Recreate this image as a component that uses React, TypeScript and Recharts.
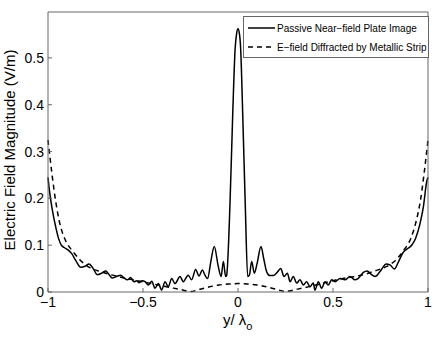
import {
  Legend,
  Line,
  LineChart,
  XAxis,
  YAxis,
} from 'recharts'

const FONT = '"Liberation Sans", Arial, Helvetica, sans-serif'
const AXIS = '#666'

// y / lambda_o positions and field magnitudes (V/m)
const PLATE_X = [
  -1, -0.995, -0.977, -0.96, -0.945, -0.93, -0.915, -0.895, -0.875, -0.855,
  -0.828, -0.805, -0.784, -0.762, -0.741, -0.718, -0.696, -0.68, -0.662, -0.64,
  -0.617, -0.6, -0.582, -0.565, -0.547, -0.533, -0.52, -0.505, -0.489, -0.472,
  -0.454, -0.437, -0.419, -0.402, -0.384, -0.367, -0.349, -0.332, -0.305, -0.288,
  -0.262, -0.244, -0.223, -0.205, -0.188, -0.174, -0.16, -0.143, -0.125, -0.104,
  -0.089, -0.077, -0.065, -0.06, -0.042, -0.028, -0.015, -0.007, 0, 0.007,
  0.014, 0.025, 0.038, 0.051, 0.06, 0.072, 0.086, 0.1, 0.121, 0.136,
  0.151, 0.168, 0.186, 0.204, 0.225, 0.242, 0.26, 0.274, 0.291, 0.309,
  0.326, 0.344, 0.361, 0.379, 0.396, 0.405, 0.423, 0.44, 0.458, 0.475,
  0.493, 0.511, 0.537, 0.563, 0.589, 0.616, 0.63, 0.66, 0.68, 0.7,
  0.721, 0.75, 0.78, 0.8, 0.823, 0.845, 0.87, 0.89, 0.914, 0.935,
  0.958, 0.975, 0.993, 1,
]
const PLATE_Y = [
  0.245, 0.225, 0.175, 0.14, 0.115, 0.1, 0.095, 0.09, 0.082, 0.068,
  0.053, 0.055, 0.06, 0.05, 0.037, 0.04, 0.045, 0.038, 0.03, 0.033,
  0.036, 0.03, 0.026, 0.031, 0.022, 0.024, 0.02, 0.024, 0.022, 0.015,
  0.023, 0.008, 0.018, 0.004, 0.022, 0.011, 0.029, 0.018, 0.033, 0.022,
  0.036, 0.026, 0.048, 0.034, 0.047, 0.036, 0.029, 0.065, 0.097, 0.055,
  0.033, 0.065, 0.033, 0.035, 0.19, 0.377, 0.52, 0.553, 0.562, 0.553,
  0.52, 0.377, 0.19, 0.033, 0.036, 0.065, 0.04, 0.06, 0.097, 0.07,
  0.043, 0.035, 0.035, 0.041, 0.05, 0.033, 0.04, 0.022, 0.033, 0.019,
  0.026, 0.015, 0.022, 0.011, 0.019, 0.004, 0.022, 0.008, 0.022, 0.015,
  0.026, 0.022, 0.029, 0.026, 0.033, 0.026, 0.028, 0.042, 0.045, 0.038,
  0.033, 0.045, 0.06, 0.058, 0.049, 0.065, 0.085, 0.092, 0.1, 0.115,
  0.146, 0.18, 0.235, 0.245,
]

const STRIP_X = [
  -1, -0.98, -0.96, -0.94, -0.91, -0.87, -0.83, -0.78, -0.72, -0.66,
  -0.6, -0.54, -0.48, -0.42, -0.36, -0.3, -0.25, -0.2, -0.15, -0.1,
  -0.05, 0, 0.05, 0.1, 0.15, 0.2, 0.25, 0.3, 0.36, 0.42,
  0.48, 0.54, 0.6, 0.66, 0.72, 0.78, 0.83, 0.87, 0.91, 0.94,
  0.96, 0.98, 1,
]
const STRIP_Y = [
  0.325, 0.255, 0.195, 0.15, 0.112, 0.087, 0.068, 0.052, 0.043, 0.036,
  0.03, 0.025, 0.02, 0.015, 0.01, 0.005, 0.001, 0.006, 0.011, 0.015,
  0.017, 0.018, 0.017, 0.015, 0.011, 0.006, 0.001, 0.005, 0.01, 0.016,
  0.022, 0.028, 0.032, 0.037, 0.045, 0.054, 0.068, 0.088, 0.115, 0.155,
  0.195, 0.255, 0.325,
]

const X_TICKS = [-1, -0.5, 0, 0.5, 1]
const Y_TICKS = [0, 0.1, 0.2, 0.3, 0.4, 0.5]

const SERIES = [
  { name: 'Passive Near\u2212field Plate Image', dash: undefined },
  { name: 'E\u2212field Diffracted by Metallic Strip', dash: '5 4' },
]

const plateData = PLATE_X.map((x, i) => ({ x, y: PLATE_Y[i] }))
const stripData = STRIP_X.map((x, i) => ({ x, y: STRIP_Y[i] }))

const fmt = (v: number) => (v < 0 ? '\u2212' + String(-v) : String(v))
const blank = () => ''

function LegendBox() {
  return (
    <svg width={186} height={42} style={{ display: 'block' }}>
      <rect x={0.5} y={0.5} width={185} height={41} fill="#fff" stroke={AXIS} />
      {SERIES.map((s, i) => (
        <g key={s.name}>
          <line
            x1={5}
            x2={32}
            y1={12 + i * 19}
            y2={12 + i * 19}
            stroke="#000"
            strokeWidth={1.5}
            strokeDasharray={s.dash}
          />
          <text
            x={34}
            y={15.5 + i * 19}
            fontFamily={FONT}
            fontSize={10}
            fill="#000"
          >
            {s.name}
          </text>
        </g>
      ))}
    </svg>
  )
}

const YTitle = () => (
  <text
    x={15}
    y={150}
    transform="rotate(-90 15 150)"
    textAnchor="middle"
    fontFamily={FONT}
    fontSize={15}
    fill="#000"
  >
    Electric Field Magnitude (V/m)
  </text>
)

const XTitle = () => (
  <text x={223} y={325} fontFamily={FONT} fontSize={15} fill="#000">
    y/ λ
    <tspan dy={5} fontSize={11}>
      o
    </tspan>
  </text>
)

export default function App() {
  const tickStyle = { fontFamily: FONT, fontSize: 14, fill: '#000' }
  return (
    <div style={{ position: 'absolute', left: 0, top: 0, background: '#fff' }}>
      <LineChart
        width={436}
        height={337}
        margin={{ top: 11, right: 7, bottom: 0, left: 0 }}
      >
        <XAxis
          dataKey="x"
          type="number"
          domain={[-1, 1]}
          ticks={X_TICKS}
          interval={0}
          tickFormatter={fmt}
          height={45}
          stroke={AXIS}
          tickSize={-4}
          tickMargin={9}
          tick={tickStyle}
          label={<XTitle />}
        />
        <XAxis
          xAxisId="top"
          orientation="top"
          dataKey="x"
          type="number"
          domain={[-1, 1]}
          ticks={X_TICKS}
          interval={0}
          tickFormatter={blank}
          height={1}
          stroke={AXIS}
          tickSize={-4}
        />
        <YAxis
          type="number"
          domain={[0, 0.598]}
          ticks={Y_TICKS}
          interval={0}
          width={48}
          stroke={AXIS}
          tickSize={-4}
          tickMargin={8}
          tick={tickStyle}
          label={<YTitle />}
        />
        <YAxis
          yAxisId="right"
          orientation="right"
          type="number"
          domain={[0, 0.598]}
          ticks={Y_TICKS}
          interval={0}
          tickFormatter={blank}
          width={1}
          stroke={AXIS}
          tickSize={-4}
        />
        <Legend
          layout="vertical"
          align="center"
          verticalAlign="middle"
          content={() => <LegendBox />}
          wrapperStyle={{ position: 'absolute', top: 16, left: 243, width: 186, height: 42 }}
        />
        <Line
          data={plateData}
          dataKey="y"
          name={SERIES[0].name}
          type="monotone"
          stroke="#000"
          strokeWidth={1.5}
          dot={false}
          activeDot={false}
          isAnimationActive={false}
        />
        <Line
          data={stripData}
          dataKey="y"
          name={SERIES[1].name}
          type="monotone"
          stroke="#000"
          strokeWidth={1.5}
          strokeDasharray="5 4"
          dot={false}
          activeDot={false}
          isAnimationActive={false}
        />
      </LineChart>
    </div>
  )
}
